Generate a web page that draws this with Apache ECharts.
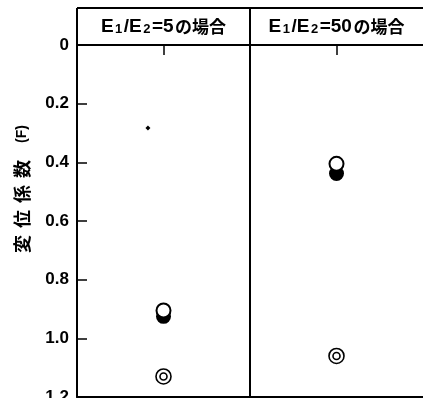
<!DOCTYPE html>
<html>
<head>
<meta charset="utf-8">
<script src="https://cdn.jsdelivr.net/npm/echarts@6/dist/echarts.min.js"></script>
<style>
  html, body { margin: 0; padding: 0; background: #fff; }
  #chart { width: 423px; height: 398px; }
</style>
</head>
<body>
<div id="chart"></div>
<script>
// Panel headers (modulus ratio E1/E2) and their ratio values
const panelRatios = ['5', '50'];
const panelCenters = [0.5, 1.5];

// Displacement factor F in each panel
const openCircle = [0.905, 0.405];    // ○
const filledCircle = [0.925, 0.438];  // ●
const doubleCircle = [1.13, 1.06];    // ◎
const smallDot = [[0.41, 0.283]];     // small dot in the first panel

const yTickValues = [0, 0.2, 0.4, 0.6, 0.8, 1.0, 1.2];
const yTickLabels = ['0', '0.2', '0.4', '0.6', '0.8', '1.0', '1.2'];
const yNameChars = ['変', '位', '係', '数', '(F)'];

const chart = echarts.init(document.getElementById('chart'), null, { renderer: 'canvas' });

const pts = arr => arr.map((v, i) => [panelCenters[i], v]);
const INK = '#000';

chart.setOption({
  animation: false,
  backgroundColor: '#fff',
  grid: { left: 77, right: 0, top: 45, bottom: 1, containLabel: false, outerBoundsMode: 'none' },
  xAxis: [
    {
      type: 'category',
      position: 'top',
      data: panelRatios,
      boundaryGap: true,
      axisLine: { show: true, lineStyle: { color: INK, width: 2 } },
      axisTick: { show: true, interval: 0, alignWithLabel: true, inside: true, length: 10, lineStyle: { color: INK, width: 1.5 } },
      axisLabel: {
        interval: 0,
        hideOverlap: false,
        margin: 9,
        formatter: r => '{a|E}{s|1}{a|/E}{s|2}{a|=' + r + '}{j|の場合}',
        rich: {
          a: { fontFamily: 'Liberation Sans', fontSize: 19, fontWeight: 'bold', color: INK, padding: [0, 1.5, 0, 0] },
          s: { fontFamily: 'Liberation Sans', fontSize: 13, fontWeight: 'bold', color: INK, verticalAlign: 'bottom', padding: [5, 1.5, 0, 0] },
          j: { fontFamily: 'Noto Sans CJK JP', fontSize: 17, fontWeight: 'bold', color: INK }
        }
      },
      splitLine: { show: false }
    },
    {
      type: 'value',
      position: 'bottom',
      min: 0,
      max: 2,
      axisLine: { show: true, onZero: false, lineStyle: { color: INK, width: 2 } },
      axisTick: { show: false },
      axisLabel: { show: false },
      splitLine: { show: false }
    }
  ],
  yAxis: {
    type: 'value',
    inverse: true,
    min: 0,
    max: 1.2,
    interval: 0.2,
    axisLine: { show: true, lineStyle: { color: INK, width: 2 } },
    axisTick: { show: true, inside: true, length: 10, lineStyle: { color: INK, width: 1.5 } },
    axisLabel: {
      margin: 8,
      color: INK,
      fontFamily: 'Liberation Sans',
      fontWeight: 'bold',
      fontSize: 17,
      formatter: v => {
        const i = yTickValues.findIndex(t => Math.abs(t - v) < 1e-6);
        return i >= 0 ? yTickLabels[i] : '';
      }
    },
    splitLine: { show: false }
  },
  series: [
    {
      type: 'scatter', xAxisIndex: 1, z: 2,
      data: pts(filledCircle), symbol: 'circle', symbolSize: 15,
      itemStyle: { color: INK, opacity: 1 }
    },
    {
      type: 'scatter', xAxisIndex: 1, z: 3,
      data: pts(openCircle), symbol: 'circle', symbolSize: 14,
      itemStyle: { color: '#fff', borderColor: INK, borderWidth: 2, opacity: 1 }
    },
    {
      type: 'scatter', xAxisIndex: 1, z: 3,
      data: pts(doubleCircle), symbol: 'circle', symbolSize: 15,
      itemStyle: { color: '#fff', borderColor: INK, borderWidth: 1.6, opacity: 1 }
    },
    {
      type: 'scatter', xAxisIndex: 1, z: 4,
      data: pts(doubleCircle), symbol: 'circle', symbolSize: 7,
      itemStyle: { color: '#fff', borderColor: INK, borderWidth: 1.6, opacity: 1 }
    },
    {
      type: 'scatter', xAxisIndex: 1, z: 4,
      data: smallDot, symbol: 'diamond', symbolSize: 5,
      itemStyle: { color: INK, opacity: 1 }
    }
  ]
});

// Header box frame and the panel divider, placed from the axis scales
const headerTop = 8;
const xLeft = chart.convertToPixel({ xAxisIndex: 1 }, 0);
const xMid = chart.convertToPixel({ xAxisIndex: 1 }, 1);
const yTop = chart.convertToPixel({ yAxisIndex: 0 }, 0);
const yBottom = chart.convertToPixel({ yAxisIndex: 0 }, 1.2);
const stroke = { stroke: INK, lineWidth: 2 };

const nameX = 22;
const nameYs = [244, 219, 194, 169, 134];

chart.setOption({
  graphic: [
    { type: 'line', shape: { x1: xLeft, y1: headerTop, x2: 423, y2: headerTop }, style: stroke, z: 10 },
    { type: 'line', shape: { x1: xLeft, y1: headerTop, x2: xLeft, y2: yTop }, style: stroke, z: 10 },
    { type: 'line', shape: { x1: xMid, y1: headerTop, x2: xMid, y2: yBottom }, style: stroke, z: 10 }
  ].concat(yNameChars.map((c, i) => ({
    type: 'text',
    x: nameX, y: nameYs[i],
    rotation: Math.PI / 2,
    style: {
      text: c,
      fontFamily: i === 4 ? 'Liberation Sans' : 'Noto Sans CJK JP',
      fontSize: i === 4 ? 14 : 18,
      fontWeight: 'bold',
      fill: INK,
      align: 'center',
      verticalAlign: 'middle'
    }
  })))
});
</script>
</body>
</html>
